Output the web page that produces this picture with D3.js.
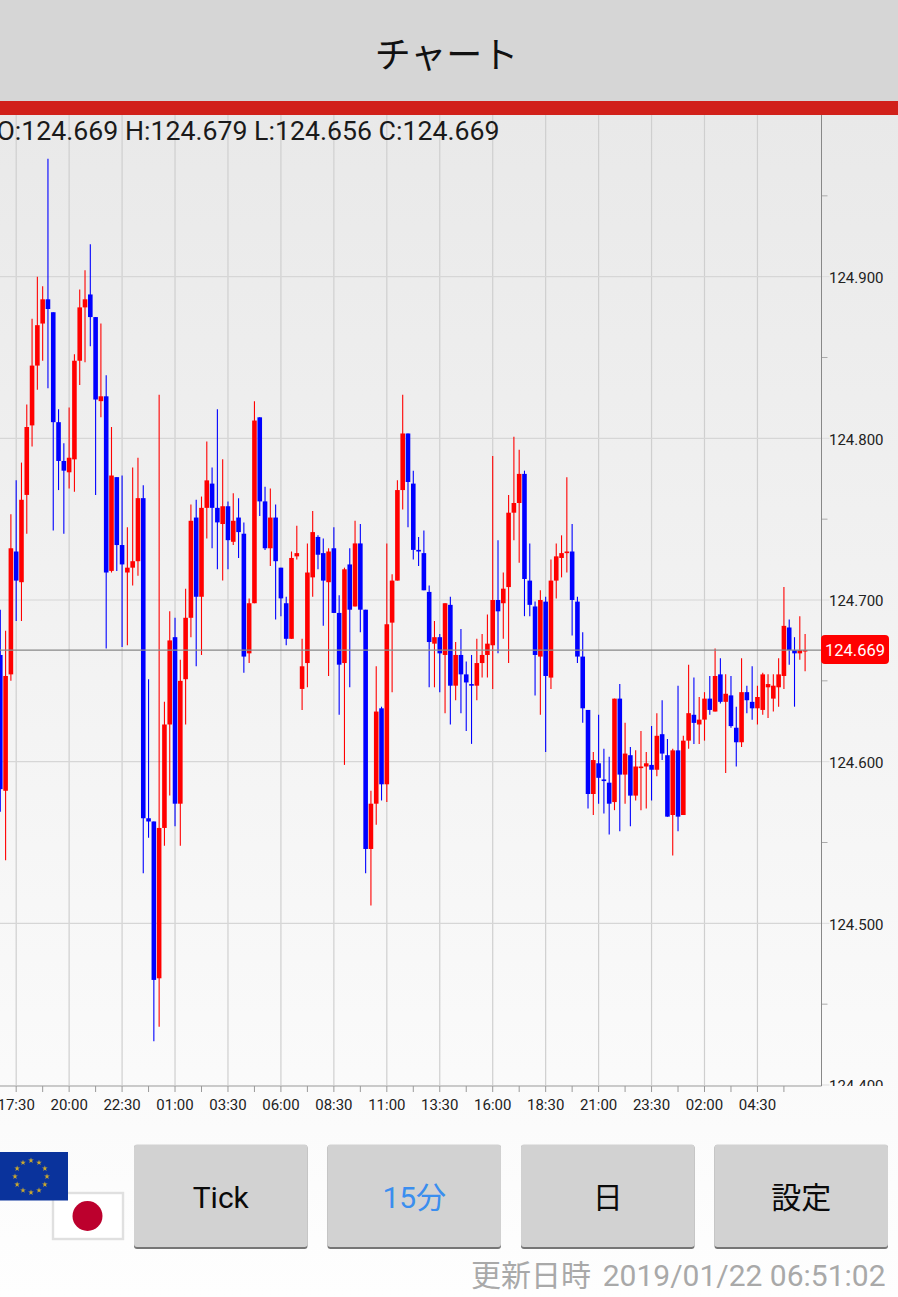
<!DOCTYPE html>
<html lang="ja">
<head>
<meta charset="utf-8">
<title>チャート</title>
<script src="https://cdn.jsdelivr.net/npm/d3@7"></script>
<style>
  html, body { margin: 0; padding: 0; background: #fff; }
  svg { display: block; }
  text { font-family: Roboto, "Noto Sans CJK JP", sans-serif; }
</style>
</head>
<body>
<div id="chart"></div>
<script>
// 15 minute candles
const opens = [
  124.666,124.582,124.654,124.730,124.711,124.765,124.808,124.845,124.871,124.886,
  124.878,124.810,124.786,124.779,124.787,124.848,124.881,124.889,124.875,124.823,
  124.826,124.718,124.776,124.734,124.717,124.720,124.724,124.763,124.565,124.563,
  124.466,124.559,124.623,124.677,124.574,124.651,124.689,124.751,124.702,124.757,
  124.772,124.757,124.747,124.758,124.736,124.751,124.741,124.667,124.698,124.813,
  124.761,124.732,124.751,124.720,124.698,124.676,124.727,124.645,124.661,124.714,
  124.739,124.729,124.711,124.732,124.692,124.661,124.722,124.696,124.735,124.694,
  124.546,124.574,124.633,124.586,124.686,124.712,124.768,124.803,124.772,124.731,
  124.729,124.705,124.673,124.677,124.666,124.697,124.647,124.666,124.654,124.648,
  124.647,124.661,124.666,124.672,124.700,124.698,124.708,124.754,124.760,124.778,
  124.712,124.696,124.665,124.699,124.652,124.712,124.726,124.729,124.730,124.699,
  124.665,124.632,124.580,124.599,124.589,124.587,124.575,124.639,124.592,124.604,
  124.579,124.596,124.597,124.598,124.595,124.617,124.604,124.567,124.607,124.567,
  124.613,124.629,124.623,124.626,124.639,124.631,124.654,124.637,124.641,124.621,
  124.612,124.643,124.637,124.633,124.632,124.646,124.639,124.646,124.653,124.683,
  124.669,124.667,124.669
];
const highs = [
  124.694,124.681,124.753,124.774,124.785,124.821,124.874,124.900,124.894,124.973,
  124.878,124.818,124.797,124.819,124.852,124.892,124.904,124.920,124.875,124.871,
  124.839,124.807,124.776,124.777,124.745,124.782,124.788,124.771,124.651,124.563,
  124.827,124.637,124.693,124.689,124.663,124.707,124.759,124.762,124.764,124.798,
  124.782,124.818,124.787,124.761,124.766,124.763,124.748,124.701,124.823,124.813,
  124.770,124.769,124.759,124.720,124.702,124.730,124.746,124.676,124.735,124.755,
  124.740,124.738,124.732,124.745,124.703,124.720,124.732,124.749,124.747,124.694,
  124.582,124.659,124.634,124.735,124.716,124.774,124.827,124.803,124.780,124.739,
  124.743,124.709,124.687,124.679,124.698,124.702,124.674,124.682,124.662,124.666,
  124.676,124.679,124.691,124.789,124.737,124.717,124.765,124.801,124.793,124.780,
  124.735,124.699,124.706,124.702,124.725,124.735,124.740,124.776,124.747,124.702,
  124.680,124.632,124.606,124.629,124.608,124.603,124.639,124.648,124.624,124.609,
  124.607,124.619,124.606,124.622,124.630,124.638,124.614,124.608,124.647,124.616,
  124.660,124.652,124.640,124.643,124.653,124.670,124.664,124.654,124.653,124.634,
  124.664,124.647,124.659,124.647,124.655,124.654,124.654,124.664,124.708,124.688,
  124.677,124.690,124.679
];
const lows = [
  124.569,124.539,124.650,124.687,124.687,124.741,124.795,124.830,124.848,124.831,
  124.743,124.768,124.741,124.769,124.767,124.833,124.847,124.857,124.765,124.813,
  124.670,124.717,124.718,124.671,124.672,124.709,124.715,124.531,124.553,124.427,
  124.436,124.548,124.579,124.560,124.548,124.623,124.677,124.659,124.666,124.738,
  124.732,124.719,124.712,124.719,124.734,124.726,124.655,124.661,124.698,124.752,
  124.731,124.721,124.688,124.690,124.672,124.676,124.725,124.632,124.646,124.702,
  124.719,124.684,124.653,124.692,124.629,124.598,124.646,124.696,124.680,124.531,
  124.511,124.561,124.576,124.575,124.643,124.712,124.756,124.745,124.725,124.721,
  124.706,124.646,124.646,124.643,124.630,124.623,124.638,124.630,124.619,124.611,
  124.638,124.652,124.652,124.645,124.667,124.676,124.661,124.737,124.723,124.690,
  124.690,124.641,124.629,124.606,124.645,124.701,124.714,124.717,124.678,124.661,
  124.624,124.571,124.567,124.574,124.568,124.555,124.570,124.557,124.574,124.560,
  124.576,124.570,124.571,124.576,124.591,124.601,124.566,124.542,124.557,124.567,
  124.608,124.611,124.611,124.613,124.629,124.631,124.636,124.593,124.621,124.597,
  124.609,124.630,124.626,124.623,124.629,124.627,124.631,124.634,124.645,124.660,
  124.634,124.663,124.656
];
const closes = [
  124.583,124.653,124.732,124.712,124.762,124.807,124.845,124.870,124.886,124.880,
  124.810,124.786,124.780,124.788,124.848,124.881,124.886,124.875,124.824,124.826,
  124.717,124.777,124.734,124.722,124.720,124.724,124.763,124.565,124.563,124.465,
  124.559,124.623,124.675,124.574,124.650,124.689,124.749,124.702,124.757,124.774,
  124.757,124.748,124.758,124.737,124.749,124.742,124.665,124.698,124.811,124.761,
  124.732,124.751,124.724,124.701,124.676,124.726,124.729,124.659,124.717,124.742,
  124.728,124.712,124.730,124.692,124.660,124.719,124.694,124.735,124.694,124.546,
  124.574,124.631,124.586,124.685,124.712,124.768,124.803,124.773,124.731,124.730,
  124.706,124.674,124.677,124.667,124.698,124.647,124.666,124.654,124.649,124.647,
  124.661,124.666,124.673,124.700,124.693,124.707,124.754,124.760,124.778,124.713,
  124.697,124.666,124.700,124.653,124.712,124.727,124.729,124.730,124.700,124.665,
  124.633,124.580,124.601,124.590,124.588,124.574,124.639,124.592,124.605,124.579,
  124.597,124.597,124.599,124.595,124.616,124.605,124.566,124.607,124.566,124.613,
  124.630,124.624,124.626,124.639,124.632,124.653,124.637,124.642,124.622,124.612,
  124.643,124.638,124.633,124.640,124.654,124.648,124.647,124.654,124.684,124.669,
  124.667,124.669,124.669
];

// axis labels
const timeLabels = ["17:30","20:00","22:30","01:00","03:30","06:00","08:30","11:00","13:30","16:00","18:30","21:00","23:30","02:00","04:30"];
const timeTicks = [3,13,23,33,43,53,63,73,83,93,103,113,123,133,143];
const timeMinorTicks = [8,18,28,38,48,58,68,78,88,98,108,118,128,138,148];
const priceTicks = [124.4,124.5,124.6,124.7,124.8,124.9];
const priceMinorTicks = [124.45,124.55,124.65,124.75,124.85,124.95];

const lastPrice = 124.669;
const ohlcText = "O:124.669 H:124.679 L:124.656 C:124.669";
const buttonLabels = ["Tick","15分","日","設定"];

const W = 898, H = 1297;
const plot = {left: 0, right: 821.5, top: 115, bottom: 1085};

const svg = d3.select("#chart").append("svg")
  .attr("width", W)
  .attr("height", H);

const defs = svg.append("defs");
const grad = defs.append("linearGradient")
  .attr("id", "bg").attr("x1", 0).attr("y1", 0).attr("x2", 0).attr("y2", 1);
grad.append("stop").attr("offset", "0%").attr("stop-color", "#e9e9e9");
grad.append("stop").attr("offset", "100%").attr("stop-color", "#fefefe");

defs.append("clipPath").attr("id", "axisClip")
  .append("rect").attr("x", 800).attr("y", 100).attr("width", 98).attr("height", 986);

// page background, header, red band
svg.append("rect").attr("x", 0).attr("y", 115).attr("width", W).attr("height", H - 115).attr("fill", "url(#bg)");
svg.append("rect").attr("width", W).attr("height", 101).attr("fill", "#d6d6d6");
svg.append("rect").attr("y", 101).attr("width", W).attr("height", 14).attr("fill", "#d1201a");
svg.append("text").attr("x", 446.5).attr("y", 68)
  .attr("text-anchor", "middle").attr("font-size", 36).attr("fill", "#111")
  .text("チャート");

// scales
const x = d3.scaleLinear().domain([0, 152]).range([0.3, 805.1]);
const y = d3.scaleLinear().domain([124.4, 125.0]).range([plot.bottom, plot.top]);

// grid lines
const gridX = svg.append("g")
  .attr("transform", `translate(0,${plot.bottom})`)
  .call(d3.axisBottom(x).tickValues(timeTicks).tickSize(-(plot.bottom - plot.top)).tickFormat("").offset(0));
gridX.select(".domain").remove();
gridX.selectAll("line").attr("stroke", "#cfcfcf").attr("stroke-width", 1.2);

const gridY = svg.append("g")
  .attr("transform", `translate(${plot.right},0)`)
  .call(d3.axisLeft(y).tickValues(priceTicks.slice(1)).tickSize(plot.right).tickFormat("").offset(0));
gridY.select(".domain").remove();
gridY.selectAll("line").attr("stroke", "#d6d6d6").attr("stroke-width", 1.2);

// candles
const candles = opens.map((o, i) => ({i, o, h: highs[i], l: lows[i], c: closes[i]}));
const upColor = "#ff0000", downColor = "#0000ff";
const bodyWidth = 4.6;

const candleG = svg.append("g").attr("class", "candles");
candleG.selectAll("line")
  .data(candles)
  .enter()
  .append("line")
  .attr("x1", d => x(d.i))
  .attr("x2", d => x(d.i))
  .attr("y1", d => y(d.h))
  .attr("y2", d => y(d.l))
  .attr("stroke", d => d.c >= d.o ? upColor : downColor)
  .attr("stroke-width", 1.1);

candleG.selectAll("rect")
  .data(candles)
  .enter()
  .append("rect")
  .attr("x", d => x(d.i) - bodyWidth / 2)
  .attr("width", bodyWidth)
  .attr("y", d => y(Math.max(d.o, d.c)))
  .attr("height", d => Math.max(Math.abs(y(d.o) - y(d.c)), 1.4))
  .attr("fill", d => d.c >= d.o ? upColor : downColor);

// current price line
svg.append("line")
  .attr("x1", 0).attr("x2", plot.right)
  .attr("y1", y(lastPrice)).attr("y2", y(lastPrice))
  .attr("stroke", "#888").attr("stroke-width", 1.4);

// bottom axis
const xAxisMinor = svg.append("g")
  .attr("transform", `translate(0,${plot.bottom + 1})`)
  .call(d3.axisBottom(x).tickValues(timeMinorTicks).tickSize(6).tickFormat("").offset(0));
xAxisMinor.select(".domain").remove();
xAxisMinor.selectAll("line").attr("stroke", "#999");

const xAxis = svg.append("g")
  .attr("transform", `translate(0,${plot.bottom + 1})`)
  .call(d3.axisBottom(x).tickValues(timeTicks).tickSize(6).tickPadding(7).offset(0)
    .tickFormat(d => timeLabels[timeTicks.indexOf(d)]));
xAxis.select(".domain").remove();
xAxis.selectAll("line").attr("stroke", "#999");
xAxis.selectAll("text").attr("font-size", 15).attr("font-family", "Roboto").attr("fill", "#222");

svg.append("line")
  .attr("x1", 0).attr("x2", plot.right)
  .attr("y1", plot.bottom + 1).attr("y2", plot.bottom + 1)
  .attr("stroke", "#999").attr("stroke-width", 1);

// right axis
const axisHolder = svg.append("g").attr("clip-path", "url(#axisClip)");
const yAxisMinor = axisHolder.append("g")
  .attr("transform", `translate(${plot.right},0)`)
  .call(d3.axisRight(y).tickValues(priceMinorTicks).tickSize(6).tickFormat("").offset(0));
yAxisMinor.select(".domain").remove();
yAxisMinor.selectAll("line").attr("stroke", "#aaa");

const yAxis = axisHolder.append("g")
  .attr("transform", `translate(${plot.right},0)`)
  .call(d3.axisRight(y).tickValues(priceTicks).tickSize(8).tickPadding(0).offset(0)
    .tickFormat(d3.format(".3f")));
yAxis.select(".domain").remove();
yAxis.selectAll("line").attr("stroke", "#ddd");
yAxis.selectAll("text").attr("font-size", 15).attr("font-family", "Roboto").attr("fill", "#222")
  .attr("y", 1.6).attr("x", 7.5);

svg.append("line")
  .attr("x1", plot.right).attr("x2", plot.right)
  .attr("y1", plot.top).attr("y2", plot.bottom + 1)
  .attr("stroke", "#888").attr("stroke-width", 1);

// current price tag
svg.append("rect")
  .attr("x", 821).attr("y", y(lastPrice) - 15)
  .attr("width", 68).attr("height", 29).attr("rx", 4)
  .attr("fill", "#ff0000");
svg.append("text")
  .attr("x", 855).attr("y", y(lastPrice) + 5.8)
  .attr("text-anchor", "middle").attr("font-size", 16.5).attr("fill", "#fff")
  .text(d3.format(".3f")(lastPrice));

// OHLC line
svg.append("text")
  .attr("x", -3.5).attr("y", 140)
  .attr("font-size", 26.7).attr("fill", "#1a1a1a")
  .text(ohlcText);

// flags
const jp = svg.append("g");
jp.append("rect").attr("x", 53).attr("y", 1193).attr("width", 70).attr("height", 46)
  .attr("fill", "#fff").attr("stroke", "#e0e0e0").attr("stroke-width", 2.4);
jp.append("circle").attr("cx", 87.5).attr("cy", 1216).attr("r", 15).attr("fill", "#bc002d");

const eu = svg.append("g");
eu.append("rect").attr("x", 0).attr("y", 1152).attr("width", 68).attr("height", 48.5).attr("fill", "#0a339c");
const star = d3.symbol().type(d3.symbolStar).size(10);
eu.selectAll("path")
  .data(d3.range(12))
  .enter()
  .append("path")
  .attr("d", star)
  .attr("fill", "#c9a82f")
  .attr("transform", d => {
    const a = d * Math.PI / 6;
    return `translate(${31 + 16 * Math.sin(a)},${1176.5 - 16 * Math.cos(a)})`;
  });

// buttons
const buttonX = d3.scaleBand().domain(buttonLabels).range([134, 888]).paddingInner(0.1034).paddingOuter(0);
const buttons = svg.selectAll(".btn")
  .data(buttonLabels)
  .enter()
  .append("g")
  .attr("class", "btn");
buttons.append("rect")
  .attr("x", d => buttonX(d)).attr("y", 1145)
  .attr("width", buttonX.bandwidth()).attr("height", 104).attr("rx", 3)
  .attr("fill", "#767676");
buttons.append("rect")
  .attr("x", d => buttonX(d)).attr("y", 1144.5)
  .attr("width", buttonX.bandwidth()).attr("height", 102.5).attr("rx", 3)
  .attr("fill", "#d2d2d2");
buttons.append("text")
  .attr("x", d => buttonX(d) + buttonX.bandwidth() / 2)
  .attr("y", 1208)
  .attr("text-anchor", "middle")
  .attr("font-size", 30)
  .attr("fill", d => d === "15分" ? "#3a8eef" : "#0a0a0a")
  .text(d => d);

// footer
svg.append("text")
  .attr("x", 471).attr("y", 1285.5)
  .attr("font-size", 30).attr("fill", "#a9a9a9")
  .text("更新日時");
svg.append("text")
  .attr("x", 885.5).attr("y", 1285.5)
  .attr("text-anchor", "end").attr("font-size", 30).attr("fill", "#a9a9a9")
  .text("2019/01/22 06:51:02");
</script>
</body>
</html>
